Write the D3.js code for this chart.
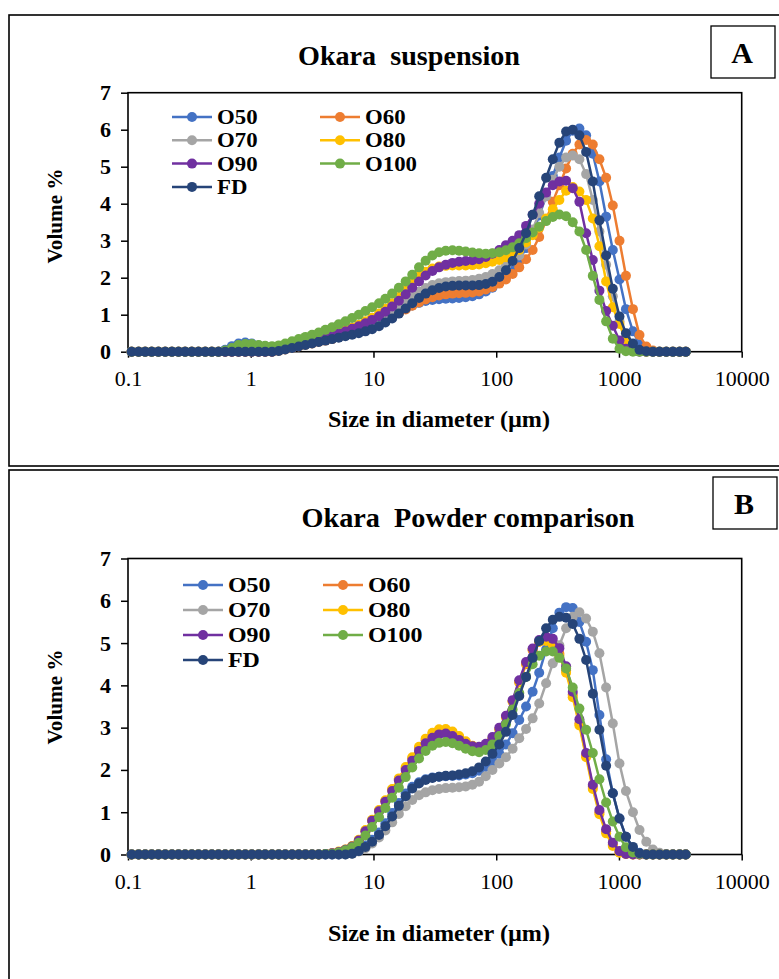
<!DOCTYPE html>
<html>
<head>
<meta charset="utf-8">
<script src="https://cdn.jsdelivr.net/npm/d3@7"></script>
<style>
body { margin: 0; background: #fff; }
svg text { font-family: "Liberation Serif", "Times New Roman", serif; }
</style>
</head>
<body>
<svg id="drawing_region"></svg>
<script>
// particle size classes (um)
var sizes = [0.107, 0.122, 0.138, 0.156, 0.177, 0.201, 0.228, 0.258, 0.292, 0.331,
    0.375, 0.426, 0.482, 0.546, 0.619, 0.702, 0.796, 0.902, 1.02, 1.16,
    1.31, 1.49, 1.69, 1.91, 2.17, 2.46, 2.79, 3.16, 3.58, 4.06,
    4.6, 5.21, 5.91, 6.7, 7.59, 8.6, 9.75, 11.1, 12.5, 14.2,
    16.1, 18.3, 20.7, 23.5, 26.6, 30.2, 34.2, 38.8, 44, 49.8,
    56.4, 64, 72.5, 82.2, 93.1, 106, 120, 136, 154, 175,
    198, 224, 255, 289, 327, 371, 420, 476, 540, 612,
    693, 786, 891, 1010, 1140, 1300, 1470, 1670, 1890, 2140,
    2430, 2750, 3120, 3500];

var series_names = ['O50', 'O60', 'O70', 'O80', 'O90', 'O100', 'FD'];
var x_ticks = [0.1, 1, 10, 100, 1000, 10000];
var y_ticks = [0, 1, 2, 3, 4, 5, 6, 7];

// A: Okara suspension
var susp_O50 = [0,0,0,0,0,0,0,0,0,0, 0,0,0,0,0.05,0.15,0.22,0.25,0.22,0.17,
    0.14,0.13,0.14,0.17,0.2,0.23,0.27,0.3,0.34,0.38, 0.42,0.46,0.5,0.54,0.59,0.64,0.7,0.77,0.86,0.96,
    1.06,1.16,1.25,1.32,1.37,1.4,1.42,1.43,1.44,1.45, 1.47,1.5,1.55,1.63,1.73,1.86,2.02,2.22,2.48,2.8,
    3.2,3.68,4.2,4.75,5.25,5.7,5.97,6.03,5.85,5.35, 4.6,3.65,2.75,1.95,1.15,0.55,0.2,0.06,0.01,0,
    0,0,0,0];
var susp_O60 = [0,0,0,0,0,0,0,0,0,0, 0,0,0,0,0,0,0,0,0,0,
    0,0,0.02,0.06,0.1,0.14,0.18,0.22,0.26,0.3, 0.34,0.39,0.44,0.49,0.54,0.6,0.67,0.75,0.84,0.94,
    1.04,1.14,1.24,1.33,1.41,1.47,1.52,1.55,1.57,1.58, 1.59,1.6,1.63,1.68,1.75,1.84,1.95,2.1,2.28,2.5,
    2.75,3.1,3.55,4.05,4.5,4.95,5.35,5.6,5.72,5.6, 5.2,4.7,3.95,3.0,2.05,1.15,0.45,0.14,0.03,0,
    0,0,0,0];
var susp_O70 = [0,0,0,0,0,0,0,0,0,0, 0,0,0,0,0,0,0,0,0,0,
    0,0,0.03,0.07,0.11,0.15,0.19,0.23,0.27,0.31, 0.35,0.4,0.45,0.5,0.56,0.63,0.71,0.81,0.93,1.06,
    1.2,1.35,1.49,1.62,1.72,1.8,1.85,1.88,1.9,1.91, 1.92,1.94,1.97,2.02,2.1,2.2,2.32,2.45,2.6,2.9,
    3.3,3.75,4.2,4.65,5.0,5.25,5.3,5.2,4.8,4.1, 3.25,2.35,1.5,0.82,0.38,0.12,0.03,0,0,0,
    0,0,0,0];
var susp_O80 = [0,0,0,0,0,0,0,0,0,0, 0,0,0,0,0,0,0,0,0,0,
    0,0,0.04,0.09,0.14,0.19,0.24,0.29,0.34,0.39, 0.45,0.51,0.58,0.65,0.73,0.82,0.92,1.03,1.16,1.31,
    1.48,1.67,1.86,2.03,2.16,2.25,2.3,2.32,2.33,2.33, 2.33,2.34,2.36,2.39,2.43,2.48,2.55,2.65,2.75,2.95,
    3.15,3.35,3.6,3.85,4.1,4.35,4.45,4.33,4.1,3.6, 2.85,1.9,1.2,0.75,0.3,0.08,0.01,0,0,0,
    0,0,0,0];
var susp_O90 = [0,0,0,0,0,0,0,0,0,0, 0,0,0,0,0,0,0,0,0,0,
    0,0,0.04,0.08,0.13,0.18,0.23,0.28,0.33,0.38, 0.43,0.49,0.55,0.62,0.69,0.77,0.86,0.96,1.08,1.22,
    1.38,1.55,1.73,1.9,2.06,2.18,2.28,2.35,2.4,2.43, 2.45,2.47,2.5,2.56,2.65,2.75,2.88,3.0,3.15,3.4,
    3.7,4.0,4.3,4.5,4.6,4.62,4.42,4.05,3.2,2.48, 1.65,1.1,0.7,0.3,0.08,0.02,0,0,0,0,
    0,0,0,0];
var susp_O100 = [0,0,0,0,0,0,0,0,0,0, 0,0,0,0,0.03,0.1,0.18,0.21,0.21,0.18,
    0.16,0.15,0.17,0.22,0.28,0.34,0.4,0.46,0.52,0.59, 0.66,0.74,0.82,0.91,1.0,1.1,1.2,1.31,1.43,1.57,
    1.73,1.9,2.08,2.28,2.46,2.6,2.69,2.73,2.74,2.73, 2.71,2.68,2.66,2.65,2.66,2.69,2.74,2.82,2.93,3.07,
    3.22,3.38,3.53,3.64,3.71,3.66,3.5,3.25,2.75,2.05, 1.4,0.82,0.35,0.08,0.01,0,0,0,0,0,
    0,0,0,0];
var susp_FD = [0,0,0,0,0,0,0,0,0,0, 0,0,0,0,0,0,0,0,0,0,
    0,0,0.02,0.06,0.1,0.14,0.18,0.22,0.26,0.3, 0.34,0.38,0.42,0.46,0.5,0.55,0.61,0.69,0.79,0.9,
    1.03,1.17,1.31,1.45,1.57,1.66,1.72,1.76,1.78,1.79, 1.79,1.79,1.8,1.83,1.89,2.02,2.2,2.45,2.8,3.2,
    3.7,4.2,4.7,5.2,5.65,5.95,6.0,5.85,5.4,4.6, 3.55,2.6,1.7,0.95,0.5,0.22,0.05,0.01,0,0,
    0,0,0,0];

// B: Okara powder comparison
var pow_O50 = [0,0,0,0,0,0,0,0,0,0, 0,0,0,0,0,0,0,0,0,0,
    0,0,0,0,0,0,0,0,0,0, 0,0,0.01,0.04,0.1,0.21,0.35,0.52,0.74,0.98,
    1.22,1.44,1.6,1.71,1.78,1.82,1.84,1.85,1.86,1.87, 1.89,1.92,1.98,2.07,2.2,2.38,2.6,2.87,3.18,3.5,
    3.85,4.3,4.85,5.35,5.72,5.85,5.83,5.5,5.03,4.36, 3.3,2.25,1.45,0.85,0.42,0.15,0.04,0,0,0,
    0,0,0,0];
var pow_O60 = [0,0,0,0,0,0,0,0,0,0, 0,0,0,0,0,0,0,0,0,0,
    0,0,0,0,0,0,0,0,0,0.01, 0.03,0.06,0.11,0.19,0.33,0.55,0.8,1.03,1.26,1.53,
    1.78,2.04,2.27,2.51,2.7,2.84,2.92,2.93,2.88,2.78, 2.66,2.56,2.52,2.58,2.73,2.96,3.25,3.62,4.07,4.5,
    4.83,5.03,5.1,5.02,4.75,4.35,3.78,3.1,2.35,1.6, 1.0,0.55,0.23,0.06,0.01,0,0,0,0,0,
    0,0,0,0];
var pow_O70 = [0,0,0,0,0,0,0,0,0,0, 0,0,0,0,0,0,0,0,0,0,
    0,0,0,0,0,0,0,0,0,0, 0,0,0,0.02,0.07,0.15,0.26,0.4,0.57,0.76,
    0.96,1.14,1.29,1.4,1.47,1.52,1.55,1.57,1.58,1.59, 1.61,1.65,1.72,1.85,2.0,2.15,2.3,2.5,2.75,2.97,
    3.22,3.57,4.05,4.52,4.95,5.35,5.62,5.73,5.58,5.27, 4.76,3.95,3.1,2.15,1.5,1.0,0.58,0.3,0.12,0.04,
    0.01,0,0,0];
var pow_O80 = [0,0,0,0,0,0,0,0,0,0, 0,0,0,0,0,0,0,0,0,0,
    0,0,0,0,0,0,0,0,0,0.01, 0.03,0.07,0.12,0.2,0.35,0.58,0.82,1.05,1.28,1.55,
    1.8,2.07,2.3,2.55,2.74,2.88,2.96,2.97,2.91,2.8, 2.68,2.57,2.52,2.58,2.72,2.95,3.25,3.62,4.08,4.52,
    4.85,5.03,5.05,4.95,4.7,4.3,3.72,3.05,2.3,1.55, 0.95,0.5,0.2,0.04,0.01,0,0,0,0,0,
    0,0,0,0];
var pow_O90 = [0,0,0,0,0,0,0,0,0,0, 0,0,0,0,0,0,0,0,0,0,
    0,0,0,0,0,0,0,0,0,0.01, 0.03,0.06,0.11,0.19,0.33,0.55,0.8,1.02,1.25,1.5,
    1.75,2.0,2.22,2.45,2.63,2.76,2.84,2.86,2.8,2.71, 2.62,2.56,2.55,2.62,2.78,3.0,3.28,3.65,4.12,4.55,
    4.87,5.07,5.15,5.1,4.88,4.45,3.85,3.2,2.4,1.65, 1.05,0.6,0.28,0.08,0.01,0,0,0,0,0,
    0,0,0,0];
var pow_O100 = [0,0,0,0,0,0,0,0,0,0, 0,0,0,0,0,0,0,0,0,0,
    0,0,0,0,0,0,0,0,0,0.01, 0.02,0.05,0.1,0.17,0.28,0.45,0.65,0.88,1.1,1.34,
    1.58,1.83,2.06,2.27,2.45,2.57,2.64,2.66,2.63,2.57, 2.5,2.44,2.42,2.47,2.6,2.8,3.08,3.43,3.82,4.2,
    4.5,4.7,4.8,4.8,4.65,4.4,3.95,3.45,2.95,2.4, 1.78,1.23,0.78,0.42,0.17,0.05,0.01,0,0,0,
    0,0,0,0];
var pow_FD = [0,0,0,0,0,0,0,0,0,0, 0,0,0,0,0,0,0,0,0,0,
    0,0,0,0,0,0,0,0,0,0, 0,0,0,0.02,0.08,0.18,0.3,0.46,0.67,0.9,
    1.15,1.38,1.56,1.68,1.76,1.81,1.84,1.86,1.87,1.89, 1.92,1.97,2.06,2.2,2.38,2.6,2.9,3.3,3.75,4.2,
    4.65,5.05,5.35,5.55,5.62,5.6,5.45,5.1,4.6,3.8, 2.95,2.1,1.45,0.85,0.42,0.18,0.03,0,0,0,
    0,0,0,0];

var colors = ['#4472C4', '#ED7D31', '#A5A5A5', '#FFC000', '#7030A0', '#70AD47', '#264478'];

var width = 779;
var height = 979;

var svg = d3.select('#drawing_region')
    .attr('width', width)
    .attr('height', height);

function draw_panel(p) {
    // outer panel frame
    svg.append('rect')
        .attr('x', 9).attr('y', p.frame_top)
        .attr('width', 800).attr('height', p.frame_h)
        .attr('fill', 'none').attr('stroke', 'black').attr('stroke-width', 1.6);

    // letter box
    svg.append('rect')
        .attr('x', p.box_x).attr('y', p.box_y)
        .attr('width', 64).attr('height', 52)
        .attr('fill', 'white').attr('stroke', 'black').attr('stroke-width', 1.3);
    svg.append('text')
        .attr('x', p.box_x + 31).attr('y', p.box_y + 37)
        .attr('text-anchor', 'middle')
        .attr('font-size', 30).attr('font-weight', 'bold')
        .text(p.letter);

    svg.append('text')
        .attr('x', p.title_x).attr('y', p.title_y)
        .attr('text-anchor', 'middle')
        .attr('font-size', 27).attr('font-weight', 'bold')
        .attr('textLength', p.title_len).attr('lengthAdjust', 'spacingAndGlyphs')
        .style('white-space', 'pre')
        .text(p.title);

    var margin = {left: 128, top: p.plot_top};
    var inner_width = 741.7 - 128;
    var inner_height = p.plot_bottom - p.plot_top;

    var chart = svg.append('g')
        .attr('transform', `translate(${margin.left}, ${margin.top})`);

    var xscale = d3.scaleLog()
        .domain([0.1, 10000])
        .range([0, inner_width]);
    var yscale = d3.scaleLinear()
        .domain([0, 7])
        .range([inner_height, 0]);

    var xaxis = d3.axisBottom(xscale)
        .tickValues(x_ticks)
        .tickFormat(d => String(d))
        .tickSize(6)
        .tickSizeOuter(0);
    var yaxis = d3.axisLeft(yscale)
        .tickValues(y_ticks)
        .tickFormat(d3.format('d'))
        .tickSize(7)
        .tickSizeOuter(0);

    var xg = chart.append('g')
        .attr('transform', `translate(0, ${inner_height})`)
        .call(xaxis);
    xg.selectAll('text')
        .attr('y', 34).attr('dy', 0)
        .attr('font-size', 22)
        .attr('fill', 'black');

    var yg = chart.append('g')
        .call(yaxis);
    yg.selectAll('text')
        .attr('x', -17)
        .attr('font-size', 22).attr('font-weight', 'bold')
        .attr('fill', 'black');

    [xg, yg].forEach(g => {
        g.select('.domain').remove();
        g.selectAll('line').attr('stroke', 'black').attr('stroke-width', 1.5);
        g.attr('font-family', null);
    });

    chart.append('rect')
        .attr('width', inner_width).attr('height', inner_height)
        .attr('fill', 'none').attr('stroke', 'black').attr('stroke-width', 1.6);

    var line = d3.line()
        .x(d => xscale(d.size))
        .y(d => yscale(d.v));

    p.series.forEach((vals, i) => {
        var pts = sizes.map((s, k) => ({size: s, v: vals[k]}));
        chart.append('path')
            .attr('d', line(pts))
            .attr('stroke', colors[i])
            .attr('stroke-width', 2.5)
            .attr('fill', 'none');
        chart.append('g').selectAll('circle')
            .data(pts)
            .join('circle')
            .attr('cx', d => xscale(d.size))
            .attr('cy', d => yscale(d.v))
            .attr('r', 5)
            .attr('fill', colors[i]);
    });

    // legend
    series_names.forEach((name, i) => {
        var lx = p.leg_x[i % 2];
        var ly = p.leg_y + Math.floor(i / 2) * p.leg_dy;
        svg.append('line')
            .attr('x1', lx).attr('x2', lx + 40)
            .attr('y1', ly).attr('y2', ly)
            .attr('stroke', colors[i]).attr('stroke-width', 2.5);
        svg.append('circle')
            .attr('cx', lx + 20).attr('cy', ly).attr('r', 5)
            .attr('fill', colors[i]);
        var t = svg.append('text')
            .attr('x', lx + 45).attr('y', ly).attr('dy', '0.35em')
            .attr('font-size', p.leg_font).attr('font-weight', 'bold')
            .text(name);
        // widen glyphs a little, like the stretched originals
        var w = t.node().getComputedTextLength();
        t.attr('textLength', w * 1.14).attr('lengthAdjust', 'spacingAndGlyphs');
    });

    svg.append('text')
        .attr('x', 439).attr('y', p.xtitle_y)
        .attr('text-anchor', 'middle')
        .attr('font-size', 23).attr('font-weight', 'bold')
        .attr('textLength', 222).attr('lengthAdjust', 'spacingAndGlyphs')
        .text('Size in diameter (µm)');

    svg.append('text')
        .attr('transform', `translate(62, ${p.ytitle_y}) rotate(-90)`)
        .attr('text-anchor', 'middle')
        .attr('font-size', 22).attr('font-weight', 'bold')
        .attr('textLength', 95).attr('lengthAdjust', 'spacingAndGlyphs')
        .text('Volume %');
}

draw_panel({
    frame_top: 15, frame_h: 451,
    box_x: 711, box_y: 26, letter: 'A',
    title: 'Okara  suspension', title_x: 409, title_y: 65, title_len: 222,
    plot_top: 92.7, plot_bottom: 351.7,
    series: [susp_O50, susp_O60, susp_O70, susp_O80, susp_O90, susp_O100, susp_FD],
    leg_x: [172, 320], leg_y: 117, leg_dy: 23.3, leg_font: 20,
    xtitle_y: 427, ytitle_y: 216
});

draw_panel({
    frame_top: 470, frame_h: 520,
    box_x: 713, box_y: 477, letter: 'B',
    title: 'Okara  Powder comparison', title_x: 468, title_y: 527, title_len: 333,
    plot_top: 558.5, plot_bottom: 854.5,
    series: [pow_O50, pow_O60, pow_O70, pow_O80, pow_O90, pow_O100, pow_FD],
    leg_x: [183, 323], leg_y: 585, leg_dy: 25, leg_font: 21,
    xtitle_y: 941, ytitle_y: 697
});
</script>
</body>
</html>
